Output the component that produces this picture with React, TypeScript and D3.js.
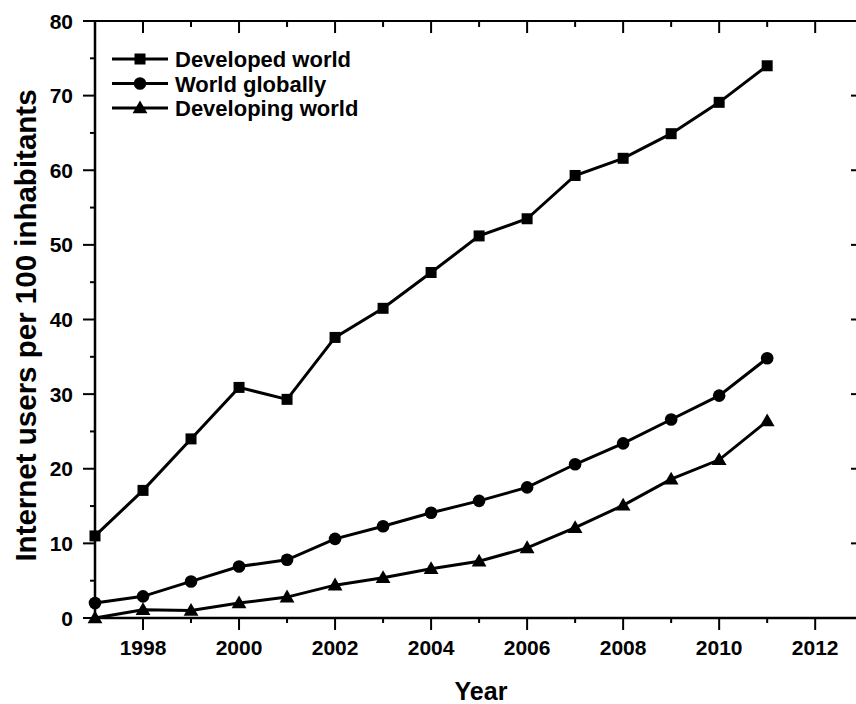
import React from "react";
import * as d3 from "d3";

const years = [1997, 1998, 1999, 2000, 2001, 2002, 2003, 2004, 2005, 2006, 2007, 2008, 2009, 2010, 2011];
const developedWorld = [11.0, 17.1, 24.0, 30.9, 29.3, 37.6, 41.5, 46.3, 51.2, 53.5, 59.3, 61.6, 64.9, 69.1, 74.0];
const worldGlobally = [2.0, 2.9, 4.9, 6.9, 7.8, 10.6, 12.3, 14.1, 15.7, 17.5, 20.6, 23.4, 26.6, 29.8, 34.8];
const developingWorld = [0.0, 1.1, 1.0, 2.0, 2.8, 4.4, 5.4, 6.6, 7.6, 9.4, 12.1, 15.1, 18.6, 21.2, 26.4];
const seriesNames = ["Developed world", "World globally", "Developing world"];
const seriesMarkers = ["square", "circle", "triangle"];
const xTickLabels = [1998, 2000, 2002, 2004, 2006, 2008, 2010, 2012];
const yTickLabels = [0, 10, 20, 30, 40, 50, 60, 70, 80];
const xTitle = "Year";
const yTitle = "Internet users per 100 inhabitants";

const W = 856, H = 704;
const L = 95, R = 856, T = 21, B = 618;
const FONT = "'Liberation Sans', Arial, sans-serif";

function Marker({ type, x, y }: { type: string; x: number; y: number }) {
  if (type === "square") return <rect x={x - 5.5} y={y - 5.5} width={11} height={11} fill="#000" />;
  if (type === "circle") return <circle cx={x} cy={y} r={6.3} fill="#000" />;
  const s = d3.symbol(d3.symbolTriangle, 95)();
  return <path d={s as string} transform={`translate(${x},${y + 1})`} fill="#000" />;
}

export default function App() {
  const x = d3.scaleLinear().domain([1997, 2012.85]).range([L, R]);
  const y = d3.scaleLinear().domain([0, 80]).range([B, T]);
  const data = [developedWorld, worldGlobally, developingWorld];
  const line = d3.line<number>().x((_, i) => x(years[i])).y((v) => y(v));
  const xMinor = d3.range(1997, 2013, 1);
  const yMinor = d3.range(0, 81, 5);

  return (
    <svg width={W} height={H} style={{ position: "absolute", left: 0, top: 0, background: "#fff" }}>
      <rect width={W} height={H} fill="#fff" />
      <line x1={L} x2={L} y1={T} y2={B + 1} stroke="#000" strokeWidth={2.5} />
      <line x1={L - 1} x2={R} y1={B} y2={B} stroke="#000" strokeWidth={2.5} />
      <line x1={L - 1} x2={R} y1={T} y2={T} stroke="#000" strokeWidth={2} />
      {xMinor.map((v) => {
        const major = v % 2 === 0;
        return (
          <g key={"xt" + v}>
            <line x1={x(v)} x2={x(v)} y1={B} y2={B + (major ? 12 : 5)} stroke="#000" strokeWidth={2} />
            <line x1={x(v)} x2={x(v)} y1={T} y2={T + (major ? 12 : 6)} stroke="#000" strokeWidth={2} />
          </g>
        );
      })}
      {xTickLabels.map((v) => (
        <text key={"xl" + v} x={x(v)} y={655} textAnchor="middle" fontFamily={FONT} fontWeight="bold" fontSize={21} fill="#000">
          {v}
        </text>
      ))}
      {yMinor.map((v) => {
        const major = v % 10 === 0;
        return (
          <g key={"yt" + v}>
            <line x1={L} x2={L - (major ? 12 : 5)} y1={y(v)} y2={y(v)} stroke="#000" strokeWidth={2} />
            {major && v > 0 && v < 80 && <line x1={R - 5} x2={R} y1={y(v)} y2={y(v)} stroke="#000" strokeWidth={2} />}
          </g>
        );
      })}
      {yTickLabels.map((v) => (
        <text key={"yl" + v} x={73} y={y(v) + 7.5} textAnchor="end" fontFamily={FONT} fontWeight="bold" fontSize={21} fill="#000">
          {v}
        </text>
      ))}
      <text x={481} y={700} textAnchor="middle" fontFamily={FONT} fontWeight="bold" fontSize={25} fill="#000">
        {xTitle}
      </text>
      <text
        transform={`translate(36,${(T + B) / 2 + 6}) rotate(-90)`}
        textAnchor="middle"
        fontFamily={FONT}
        fontWeight="bold"
        fontSize={29.5}
        fill="#000"
      >
        {yTitle}
      </text>
      <g>
        {data.map((s, k) => (
          <g key={"s" + k}>
            <path d={line(s) as string} fill="none" stroke="#000" strokeWidth={3} />
            {s.map((v, i) => (
              <Marker key={i} type={seriesMarkers[k]} x={x(years[i])} y={y(v)} />
            ))}
          </g>
        ))}
      </g>
      {seriesNames.map((n, k) => {
        const ly = 59 + k * 24.5;
        return (
          <g key={"lg" + k}>
            <line x1={112} x2={168} y1={ly} y2={ly} stroke="#000" strokeWidth={3} />
            <Marker type={seriesMarkers[k]} x={140} y={ly} />
            <text x={175} y={ly + 8} fontFamily={FONT} fontWeight="bold" fontSize={22} fill="#000">
              {n}
            </text>
          </g>
        );
      })}
    </svg>
  );
}
